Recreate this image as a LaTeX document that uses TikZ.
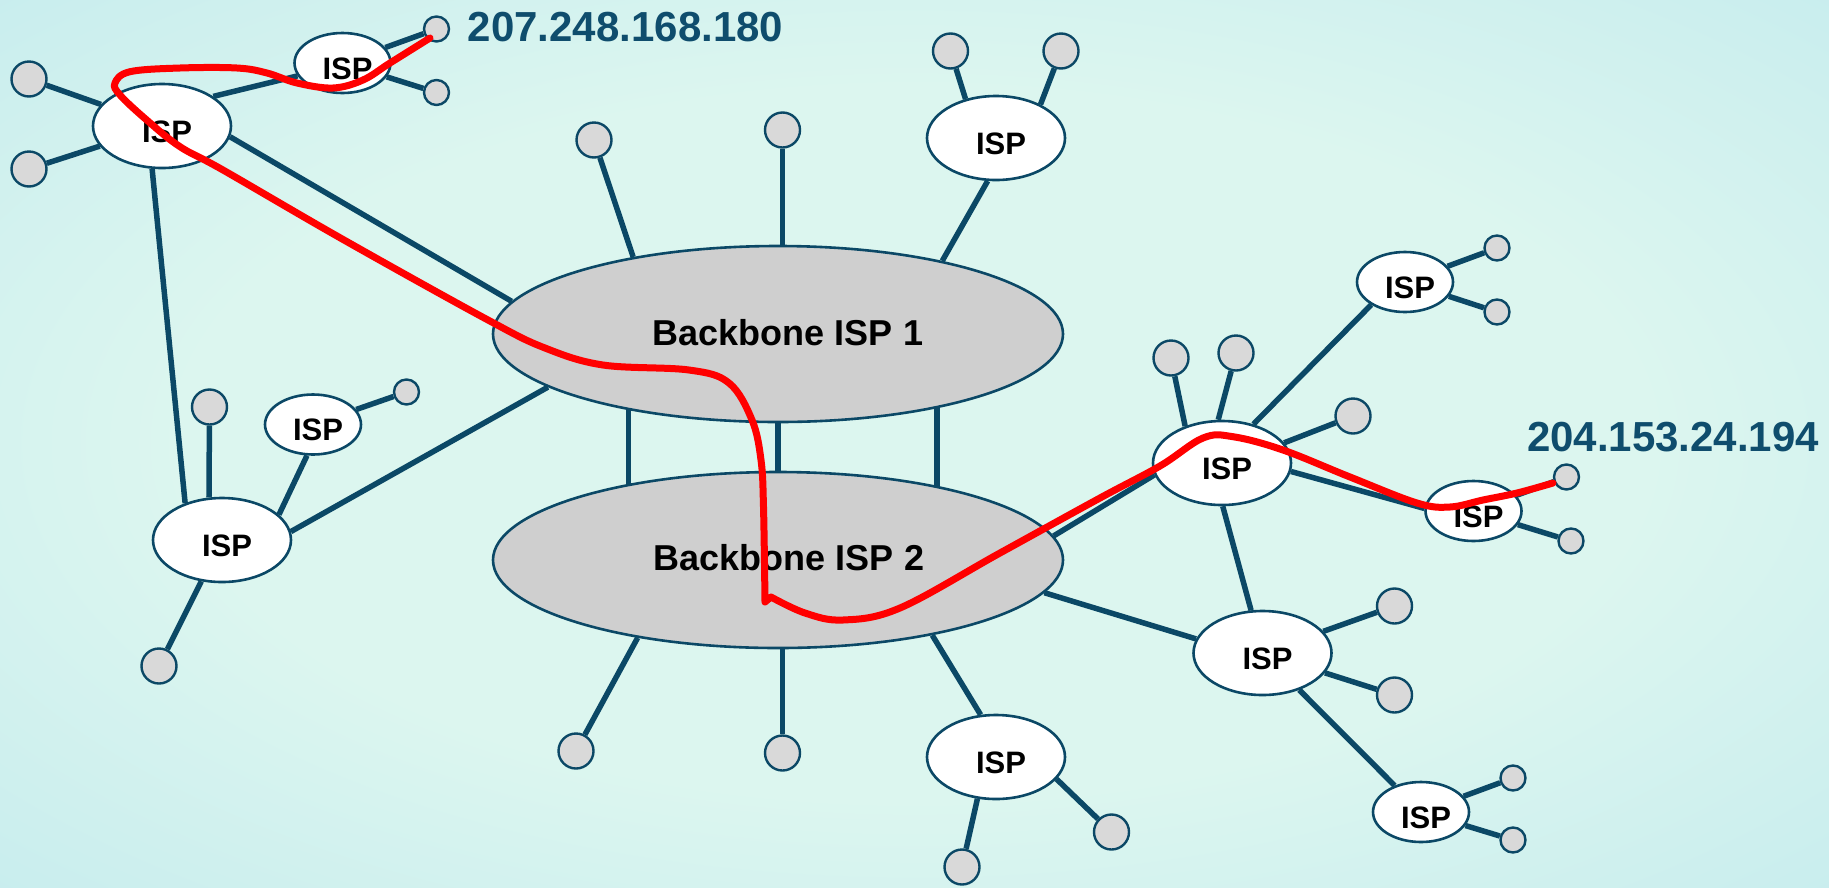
\documentclass[tikz,border=0pt]{standalone}
\usepackage{fontspec}
\setmainfont{Liberation Sans}
\usetikzlibrary{shapes.geometric}
\pgfdeclarelayer{bglayer}
\pgfdeclarelayer{linklayer}
\pgfsetlayers{bglayer,linklayer,main}
\definecolor{lc}{HTML}{0B4866}
\definecolor{ipc}{HTML}{0F4D6D}
\definecolor{hostfill}{HTML}{D9D9D9}
\definecolor{bbfill}{HTML}{CFCFCF}
\definecolor{bgin}{HTML}{DCF6EF}
\definecolor{bgmid}{HTML}{C8EDEE}
\definecolor{bgedge}{HTML}{B4E1E9}
\definecolor{bgout}{HTML}{A6D8E5}
\definecolor{pathred}{HTML}{FF0000}
\pgfdeclareradialshading{bgshade}{\pgfpoint{0bp}{0bp}}{color(0bp)=(bgin); color(20bp)=(bgin); color(36bp)=(bgmid); color(48bp)=(bgedge); color(60bp)=(bgout); color(71bp)=(bgout)}
\begin{document}
\begin{tikzpicture}[x=1pt,y=-1pt,
  ispt/.style={font=\fontsize{31}{31}\selectfont\bfseries, text=black, inner sep=0pt, xshift=5pt, yshift=-5.5pt},
  isp/.style={ellipse, draw=lc, fill=white, line width=2.6pt, minimum width=138pt, minimum height=84pt, inner sep=0pt, label={[ispt]center:ISP}},
  sisp/.style={ellipse, draw=lc, fill=white, line width=2.6pt, minimum width=96pt, minimum height=60pt, inner sep=0pt, label={[ispt]center:ISP}},
  host/.style={circle, draw=lc, fill=hostfill, line width=2.4pt, minimum size=35pt, inner sep=0pt},
  shost/.style={circle, draw=lc, fill=hostfill, line width=2.4pt, minimum size=25pt, inner sep=0pt},
  bb/.style={ellipse, draw=lc, fill=bbfill, line width=2.6pt, minimum width=570pt, minimum height=176pt, inner sep=0pt},
  bbt/.style={font=\fontsize{36}{36}\selectfont\bfseries, text=black, inner sep=0pt},
  ipt/.style={font=\fontsize{42}{42}\selectfont\bfseries, text=ipc, inner sep=0pt},
  link/.style={draw=lc, line width=5.5pt},
  redpath/.style={draw=pathred, line width=7pt, line cap=round, line join=round}
]
\useasboundingbox (0,0) rectangle (1829,887);
\begin{pgfonlayer}{bglayer}
\shade[shading=bgshade] (0,0) rectangle (1829,887);
\end{pgfonlayer}

% nodes
\node[host] (a1) at (29,79) {};
\node[host] (a2) at (29,169) {};
\node[isp] (A) at (162,126) {};
\node[sisp] (B) at (342.5,63) {};
\node[shost] (b1) at (436.5,29) {};
\node[shost] (b2) at (436.5,92.5) {};
\node[isp] (C) at (222,540) {};
\node[host] (c1) at (209.5,407) {};
\node[host] (c2) at (159,666) {};
\node[sisp] (G) at (313,424.5) {};
\node[shost] (g1) at (406.5,392) {};
\node[bb] (BB1) at (778,334) {};
\node[bb] (BB2) at (778,560) {};
\node[bbt] (bt1) at (788,333) {Backbone ISP 1};
\node[bbt] (bt2) at (789,558) {Backbone ISP 2};
\node[host] (t1) at (594,140) {};
\node[host] (t2) at (782.5,130) {};
\node[isp] (D) at (996,138) {};
\node[host] (d1) at (950.5,51) {};
\node[host] (d2) at (1061,51) {};
\node[sisp] (E) at (1405,282) {};
\node[shost] (e1) at (1497,248) {};
\node[shost] (e2) at (1497,312) {};
\node[isp] (F) at (1222,463) {};
\node[host] (f1) at (1171,358) {};
\node[host] (f2) at (1236,353) {};
\node[host] (f3) at (1353,416) {};
\node[sisp] (H) at (1473.5,511) {};
\node[shost] (h1) at (1566.5,477) {};
\node[shost] (h2) at (1571,541) {};
\node[isp] (I) at (1262.5,653) {};
\node[host] (i1) at (1394.5,606) {};
\node[host] (i2) at (1394.5,695) {};
\node[sisp] (J) at (1421,812) {};
\node[shost] (j1) at (1513,778) {};
\node[shost] (j2) at (1513,840) {};
\node[isp] (K) at (996,757) {};
\node[host] (k1) at (1111.5,832) {};
\node[host] (k2) at (962,867) {};
\node[host] (u1) at (576,751) {};
\node[host] (u2) at (782.5,753) {};

\node[ipt] (ip1) at (625.5,27) {207.248.168.180};
\node[ipt] (ip2) at (1673,437) {204.153.24.194};

% links
\begin{pgfonlayer}{linklayer}
\draw[link] (a1) -- (A);
\draw[link] (a2) -- (A);
\draw[link] (A.30) -- (B.196);
\draw[link] (B) -- (b1);
\draw[link] (B) -- (b2);
\draw[link] (A.-9) -- (BB1.173);
\draw[link] (A.-103) -- (C.135);
\draw[link] (c1) -- (C.107);
\draw[link] (C.24) -- (G.-101);
\draw[link] (G) -- (g1);
\draw[link] (C) -- (c2);
\draw[link] (C.7) -- (BB1.193);
\draw[link] (t1) -- (BB1.152);
\draw[link] (t2) -- (t2 |- BB1.north);
\draw[link] (D.-101) -- (BB1.24);
\draw[link] (d1) -- (D.128);
\draw[link] (d2) -- (D.37);
\draw[link] (BB1.207) -- (BB2.153);
\draw[link] (BB1.south) -- (BB2.north);
\draw[link] (BB1.-25) -- (BB2.25);
\draw[link] (u1) -- (BB2.209);
\draw[link] (u2) -- (u2 |- BB2.south);
\draw[link] (K.110) -- (BB2.-26);
\draw[link] (K.-20) -- (k1);
\draw[link] (k2) -- (K.246);
\draw[link] (BB2.5) -- (F.190);
\draw[link] (f1) -- (F.135);
\draw[link] (f2) -- (F.95);
\draw[link] (f3) -- (F.18);
\draw[link] (F.51) -- (E.214);
\draw[link] (E) -- (e1);
\draw[link] (E) -- (e2);
\draw[link] (F.-7) -- (H.177);
\draw[link] (H) -- (h1);
\draw[link] (H) -- (h2);
\draw[link] (F.-89) -- (I.105);
\draw[link] (BB2.-7) -- (I.168);
\draw[link] (I) -- (i1);
\draw[link] (I) -- (i2);
\draw[link] (I) -- (J);
\draw[link] (J) -- (j1);
\draw[link] (J) -- (j2);
\end{pgfonlayer}

% route
\draw[redpath] plot[smooth, tension=0.6] coordinates {
  (430,38) (390,63) (363,80) (333,88) (297,83) (267,73) (237,68) (180,68)
  (130,71.7) (115,83) (120,95) (146.7,120) (180,146.7) (223,170) (344,240)
  (488,320) (545,348) (603,365) (689,370) (729,383) (752,420) (761,460)
  (763.5,507) (765,602)}
  -- plot[smooth, tension=0.6] coordinates {
  (771,597) (805,613) (843,620) (900,608) (1000,553) (1100,498) (1160,466)
  (1203,438) (1233,436.7) (1283,450)
  (1350,477) (1417,503) (1450,507) (1483,500) (1517,493) (1553,483)};
\end{tikzpicture}
\end{document}
